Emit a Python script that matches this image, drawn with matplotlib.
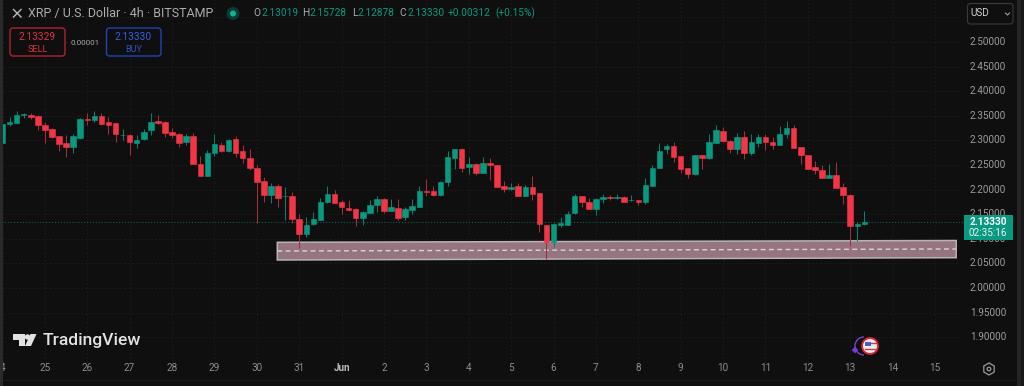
import numpy as np
import matplotlib
matplotlib.use('Agg')
import matplotlib.pyplot as plt
from matplotlib.patches import Circle, FancyBboxPatch, Polygon, RegularPolygon, Rectangle, Arc

plt.rcParams['font.family'] = ['Roboto', 'DejaVu Sans']

# 4h candles, first one is 24 May 00:00
opens = [2.295, 2.333, 2.335, 2.352, 2.352, 2.350, 2.332, 2.324, 2.309, 2.295,
         2.287, 2.304, 2.344, 2.341, 2.350, 2.337, 2.335, 2.310, 2.310, 2.295,
         2.302, 2.321, 2.339, 2.337, 2.317, 2.314, 2.297, 2.309, 2.253, 2.228,
         2.274, 2.291, 2.278, 2.303, 2.278, 2.265, 2.243, 2.217, 2.190, 2.207,
         2.186, 2.186, 2.140, 2.110, 2.130, 2.139, 2.174, 2.192, 2.175, 2.163,
         2.161, 2.142, 2.153, 2.168, 2.180, 2.157, 2.163, 2.144, 2.159, 2.165,
         2.198, 2.198, 2.190, 2.216, 2.264, 2.283, 2.246, 2.253, 2.234, 2.255,
         2.251, 2.208, 2.201, 2.208, 2.187, 2.206, 2.193, 2.129, 2.094, 2.129,
         2.129, 2.152, 2.186, 2.175, 2.161, 2.180, 2.184, 2.183, 2.184, 2.178,
         2.179, 2.175, 2.207, 2.244, 2.282, 2.289, 2.268, 2.243, 2.231, 2.270,
         2.264, 2.295, 2.320, 2.299, 2.283, 2.306, 2.274, 2.295, 2.306, 2.297,
         2.291, 2.313, 2.325, 2.286, 2.270, 2.245, 2.240, 2.224, 2.229, 2.205,
         2.189, 2.125, 2.13019]
highs = [2.333, 2.348, 2.359, 2.356, 2.355, 2.352, 2.337, 2.325, 2.309, 2.311,
         2.312, 2.345, 2.355, 2.360, 2.356, 2.347, 2.336, 2.323, 2.314, 2.310,
         2.324, 2.355, 2.352, 2.339, 2.325, 2.316, 2.314, 2.316, 2.268, 2.280,
         2.313, 2.296, 2.303, 2.309, 2.291, 2.283, 2.251, 2.225, 2.214, 2.211,
         2.206, 2.196, 2.150, 2.144, 2.154, 2.182, 2.208, 2.200, 2.178, 2.179,
         2.162, 2.157, 2.178, 2.188, 2.182, 2.181, 2.180, 2.164, 2.180, 2.207,
         2.222, 2.207, 2.218, 2.278, 2.283, 2.284, 2.266, 2.255, 2.266, 2.264,
         2.251, 2.217, 2.213, 2.214, 2.209, 2.228, 2.193, 2.129, 2.132, 2.144,
         2.157, 2.192, 2.186, 2.182, 2.182, 2.191, 2.190, 2.192, 2.188, 2.189,
         2.179, 2.224, 2.250, 2.294, 2.293, 2.296, 2.268, 2.243, 2.270, 2.271,
         2.314, 2.331, 2.327, 2.301, 2.316, 2.319, 2.313, 2.314, 2.313, 2.306,
         2.329, 2.339, 2.331, 2.286, 2.270, 2.258, 2.250, 2.253, 2.257, 2.214,
         2.192, 2.134, 2.15728]
lows = [2.295, 2.329, 2.333, 2.346, 2.344, 2.322, 2.294, 2.304, 2.279, 2.267,
        2.274, 2.302, 2.331, 2.337, 2.331, 2.314, 2.296, 2.301, 2.270, 2.285,
        2.301, 2.310, 2.333, 2.306, 2.304, 2.287, 2.290, 2.253, 2.228, 2.228,
        2.269, 2.277, 2.277, 2.267, 2.255, 2.240, 2.133, 2.175, 2.172, 2.164,
        2.138, 2.133, 2.081, 2.103, 2.129, 2.138, 2.172, 2.172, 2.150, 2.157,
        2.125, 2.128, 2.152, 2.155, 2.153, 2.156, 2.138, 2.138, 2.150, 2.164,
        2.188, 2.188, 2.188, 2.208, 2.242, 2.236, 2.231, 2.230, 2.233, 2.220,
        2.206, 2.196, 2.199, 2.186, 2.186, 2.178, 2.113, 2.058, 2.084, 2.123,
        2.129, 2.150, 2.165, 2.160, 2.148, 2.172, 2.178, 2.180, 2.174, 2.177,
        2.169, 2.171, 2.207, 2.243, 2.272, 2.257, 2.233, 2.224, 2.230, 2.242,
        2.263, 2.294, 2.297, 2.274, 2.272, 2.262, 2.270, 2.287, 2.281, 2.283,
        2.291, 2.304, 2.285, 2.253, 2.241, 2.232, 2.224, 2.223, 2.203, 2.170,
        2.086, 2.096, 2.12878]
closes = [2.333, 2.337, 2.352, 2.354, 2.348, 2.331, 2.322, 2.306, 2.293, 2.287,
          2.308, 2.344, 2.341, 2.350, 2.333, 2.332, 2.313, 2.311, 2.297, 2.300,
          2.318, 2.338, 2.335, 2.316, 2.311, 2.295, 2.309, 2.253, 2.228, 2.274,
          2.293, 2.278, 2.301, 2.275, 2.264, 2.243, 2.216, 2.190, 2.207, 2.182,
          2.187, 2.140, 2.110, 2.129, 2.140, 2.175, 2.192, 2.173, 2.164, 2.159,
          2.142, 2.154, 2.168, 2.180, 2.157, 2.165, 2.143, 2.161, 2.167, 2.198,
          2.196, 2.190, 2.216, 2.267, 2.283, 2.244, 2.253, 2.234, 2.255, 2.249,
          2.206, 2.201, 2.206, 2.186, 2.206, 2.192, 2.130, 2.094, 2.131, 2.132,
          2.150, 2.186, 2.174, 2.161, 2.180, 2.184, 2.182, 2.185, 2.175, 2.179,
          2.175, 2.209, 2.244, 2.278, 2.289, 2.267, 2.241, 2.231, 2.270, 2.264,
          2.297, 2.322, 2.298, 2.283, 2.306, 2.275, 2.296, 2.307, 2.297, 2.291,
          2.314, 2.325, 2.285, 2.270, 2.242, 2.239, 2.224, 2.229, 2.203, 2.190,
          2.127, 2.130, 2.13330]

day_labels = ['4', '25', '26', '27', '28', '29', '30', '31', 'Jun', '2', '3', '4', '5',
              '6', '7', '8', '9', '10', '11', '12', '13', '14', '15']
price_ticks = [2.50, 2.45, 2.40, 2.35, 2.30, 2.25, 2.20, 2.15, 2.10, 2.05, 2.00, 1.95, 1.90]
last_price = 2.13330

# support zone corners as prices, (bar index, price)
zone_start, zone_end = 39, 135
zone_top = [2.0929, 2.0965]
zone_bottom = [2.0569, 2.0616]
zone_mid = [2.0752, 2.0793]

BG = '#0f0f0f'
GREEN = '#089981'
RED = '#f23645'
GRID = '#1b1b1b'
AXIS_TEXT = '#9c9c9c'

W, H = 1024, 386
fig = plt.figure(figsize=(W / 100, H / 100), dpi=100, facecolor=BG)

# Candle axes fills the figure, limits set so price and bar index land where the screenshot has them
ax = fig.add_axes([0, 0, 1, 1], facecolor=BG)
ax.set_xlim(-0.354, 144.6)
ax.set_ylim(1.80081, 2.58537)
ax.axis('off')

# Overlay in screenshot pixels, for the app furniture around the chart
ui = fig.add_axes([0, 0, 1, 1], facecolor='none')
ui.set_xlim(0, W)
ui.set_ylim(H, 0)
ui.axis('off')

day_idx = np.arange(len(day_labels)) * 6

# Grid
pane_right = 135.2
for p in price_ticks + [2.55]:
    ax.plot([-1, pane_right], [p, p], color=GRID, lw=0.7, ls=(0, (2, 2)), zorder=1)
for d in day_idx:
    ax.plot([d, d], [1.826, 2.6], color=GRID, lw=0.7, ls=(0, (2, 2)), zorder=1)

# Support zone
zx = [zone_start - 0.1, zone_end]
ax.add_patch(Polygon([(zx[0], zone_top[0]), (zx[1], zone_top[1]), (zx[1], zone_bottom[1]), (zx[0], zone_bottom[0])],
                     closed=True, facecolor='#95757f', edgecolor='#b9b3b6', lw=1.1, zorder=2))
ax.plot(zx, zone_mid, color='#dcd5d8', lw=1.0, ls=(0, (3.5, 2.5)), zorder=3)

# Candles
idx = np.arange(len(opens))
opens_a, highs_a, lows_a, closes_a = map(np.array, (opens, highs, lows, closes))
up = closes_a >= opens_a
ax.vlines(idx[up], lows_a[up], highs_a[up], color='#0a7f6b', lw=0.75, zorder=4)
ax.vlines(idx[~up], lows_a[~up], highs_a[~up], color='#a82c3a', lw=0.75, zorder=4)
body_low = np.minimum(opens_a, closes_a)
body_h = np.abs(closes_a - opens_a)
ax.bar(idx[up], body_h[up], bottom=body_low[up], width=0.78, color=GREEN, edgecolor=GREEN, lw=0.4, zorder=5)
ax.bar(idx[~up], body_h[~up], bottom=body_low[~up], width=0.78, color=RED, edgecolor=RED, lw=0.4, zorder=5)

# Last price line
ax.plot([-1, 136.2], [last_price, last_price], color=GREEN, lw=0.7, ls=(0, (1, 2)), alpha=0.7, zorder=3)

# Side strips and bottom edge
ui.add_patch(Rectangle((0, 0), 3, H, facecolor='#2a2a2a', edgecolor='none', zorder=5))
ui.add_patch(Rectangle((1017, 0), 4, H, facecolor='#242424', edgecolor='none', zorder=1))
ui.add_patch(Rectangle((1021, 0), 3, H, facecolor='#181818', edgecolor='none', zorder=1))
ui.plot([3, 1017], [379.5, 379.5], color='#2a2a2a', lw=0.7, ls=(0, (1, 1)))

# Price axis labels
for p in price_ticks:
    y = 42 + (2.5 - p) * 492
    ui.text(988, y, f'{p:.5f}', color=AXIS_TEXT, fontsize=7.2, ha='center', va='center', zorder=2)

# Last price tag
ui.add_patch(Rectangle((964, 215), 48.5, 25, facecolor=GREEN, edgecolor='none', zorder=6))
ui.text(988, 222, '2.13330', color='white', fontsize=7.2, fontweight='bold', ha='center', va='center', zorder=7)
ui.text(988, 233.5, '02:35:16', color='#e8f5f2', fontsize=7.2, ha='center', va='center', zorder=7)

# Time axis labels
for d, lab in zip(day_idx, day_labels):
    x = 2.5 + 7.064 * d
    color = '#b8b8b8' if lab == 'Jun' else '#8c8c8c'
    weight = 'bold' if lab == 'Jun' else 'normal'
    ui.text(x, 368, lab, color=color, fontsize=7.2, fontweight=weight, ha='center', va='center', zorder=3)

# Header
ui.plot([13.5, 21], [9.5, 17], color='#bdbdbd', lw=1.0)
ui.plot([13.5, 21], [17, 9.5], color='#bdbdbd', lw=1.0)
ui.text(28, 13.5, 'XRP / U.S. Dollar · 4h · BITSTAMP', color='#adadad', fontsize=9, ha='left', va='center')
ui.add_patch(Circle((233, 13.5), 6.5, facecolor='#0d3a33', edgecolor='none'))
ui.add_patch(Circle((233, 13.5), 3, facecolor='#11b394', edgecolor='none'))
for x, s, c in [(253, 'O', '#adadad'), (261, '2.13019', GREEN), (302.5, 'H', '#adadad'), (310, '2.15728', GREEN),
                (352, 'L', '#adadad'), (358, '2.12878', GREEN), (399, 'C', '#adadad'), (407, '2.13330', GREEN),
                (448, '+0.00312', GREEN), (495, '(+0.15%)', GREEN)]:
    ui.text(x, 13.5, s, color=c, fontsize=7.3, ha='left', va='center')

# Sell and buy buttons
ui.add_patch(FancyBboxPatch((10, 28), 55, 28, boxstyle='round,pad=0,rounding_size=3', facecolor=BG, edgecolor='#b0222f', lw=1.0))
ui.text(37.5, 37, '2.13329', color='#e0303f', fontsize=7.3, ha='center', va='center')
ui.text(37.5, 49, 'SELL', color='#e0303f', fontsize=6.6, ha='center', va='center')
ui.text(85, 43, '0.00001', color='#a8a8a8', fontsize=5.8, ha='center', va='center')
ui.add_patch(FancyBboxPatch((106.5, 28), 54.5, 28, boxstyle='round,pad=0,rounding_size=3', facecolor=BG, edgecolor='#1f45b5', lw=1.0))
ui.text(133.5, 37, '2.13330', color='#2f5fe8', fontsize=7.3, ha='center', va='center')
ui.text(133.5, 49, 'BUY', color='#2a50c8', fontsize=6.6, ha='center', va='center')

# Currency selector
ui.add_patch(FancyBboxPatch((967.5, 3.5), 45.5, 20.5, boxstyle='round,pad=0,rounding_size=3', facecolor=BG, edgecolor='#3a3a3a', lw=0.8))
ui.text(970.5, 13.5, 'USD', color='#d0d0d0', fontsize=7.2, ha='left', va='center')
ui.plot([1005.5, 1007.5, 1009.5], [13, 15, 13], color='#a0a0a0', lw=0.8)

# TradingView logo
ui.add_patch(Polygon([(13, 334), (24.5, 334), (24.5, 346), (19, 346), (19, 339.5), (13, 339.5)], facecolor='#e2e2e2', edgecolor='none'))
ui.add_patch(Circle((27.5, 337), 2.7, facecolor='#e2e2e2', edgecolor='none'))
ui.add_patch(Polygon([(30.5, 334), (36.5, 334), (31, 346), (25, 346)], facecolor='#e2e2e2', edgecolor='none'))
ui.text(42.5, 340, 'TradingView', color='#e2e2e2', fontsize=12.6, fontweight='medium', ha='left', va='center')

# Settings gear
ui.add_patch(RegularPolygon((989, 369), 6, radius=6, orientation=0, facecolor='none', edgecolor='#9a9a9a', lw=0.9))
ui.add_patch(Circle((989, 369), 1.8, facecolor='none', edgecolor='#9a9a9a', lw=0.9))

# Economic event marker
ui.add_patch(Arc((864, 346), 18, 18, theta1=90, theta2=270, color='#7a3fd0', lw=1.0))
ui.add_patch(RegularPolygon((855, 350), 4, radius=3.3, facecolor='#6a3fe0', edgecolor='none'))
ui.add_patch(Circle((870, 346), 8, facecolor='#eeeeee', edgecolor='#e01f2f', lw=1.3))
ui.add_patch(Rectangle((865, 341.5), 6, 4.5, facecolor='#3a66c8', edgecolor='none'))
ui.plot([871, 876], [343, 343], color='#d8323e', lw=1.0)
ui.plot([865, 876], [349, 349], color='#d8323e', lw=1.0)

fig.savefig('out.png', dpi=100, facecolor=BG)
